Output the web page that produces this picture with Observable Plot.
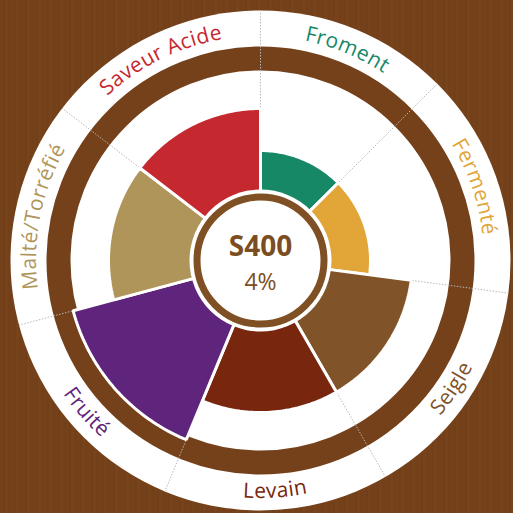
<!DOCTYPE html>
<html>
<head>
<meta charset="utf-8">
<script src="https://cdn.jsdelivr.net/npm/d3@7"></script>
<script src="https://cdn.jsdelivr.net/npm/@observablehq/plot@0.6"></script>
<style>
html, body { margin: 0; padding: 0; width: 513px; height: 513px; overflow: hidden; background: #74411a; }
#chart {
  width: 513px; height: 513px;
  background: repeating-linear-gradient(90deg,
    #74411a 0px, #74411a 3px,
    #71401a 3px, #71401a 5px,
    #77431b 5px, #77431b 8px,
    #73401a 8px, #73401a 11px);
}
</style>
</head>
<body>
<div id="chart"></div>
<script>
// ---- data ----
const categories = ["Froment", "Fermenté", "Seigle", "Levain", "Fruité", "Malté/Torréfié", "Saveur Acide"];
const values = [2, 2, 4, 4, 6, 4, 4];
const spans = [45, 52.5, 52.5, 52.5, 52.5, 52.5, 52.5]; // angular width of each sector, degrees
const colors = ["#168866", "#e2a537", "#805328", "#78260d", "#5f247c", "#af955a", "#c6282f"];
const centerTitle = "S400";
const centerValue = "4%";

// ---- layout ----
const W = 513, H = 513;
const cx = 260, cy = 260;
const R_OUT = 250, RING_IN = 190, RING_OUT = 214;
const rScale = d3.scaleLinear().domain([0, 6]).range([68, 194]);
const FONT = "'Open Sans', 'Noto Sans', sans-serif";
const rad = a => a * Math.PI / 180;

const starts = [0, ...d3.cumsum(spans)].slice(0, categories.length);
const sectors = categories.map((c, i) => ({
  name: c, value: values[i], color: colors[i],
  a0: starts[i], a1: starts[i] + spans[i]
}));

function polar(r, a) { return { x: r * Math.sin(rad(a)), y: -r * Math.cos(rad(a)) }; }

function barPoints(s) {
  const pts = [];
  const rOuter = rScale(s.value), rInner = rScale(0);
  const n = Math.max(2, Math.ceil(s.a1 - s.a0));
  for (let k = 0; k <= n; k++) pts.push(polar(rOuter, s.a0 + (s.a1 - s.a0) * k / n));
  for (let k = n; k >= 0; k--) pts.push(polar(rInner, s.a0 + (s.a1 - s.a0) * k / n));
  return pts;
}

const origin = [{ x: 0, y: 0 }];
const boundaries = sectors.map(s => ({ ...polar(R_OUT, s.a0) }));

const plot = Plot.plot({
  width: W, height: H, margin: 0,
  style: { background: "transparent", overflow: "visible" },
  x: { domain: [-cx, W - cx], range: [0, W], axis: null },
  y: { domain: [-cy, H - cy], range: [0, H], axis: null },
  marks: [
    Plot.dot(origin, { x: "x", y: "y", r: R_OUT, fill: "white", stroke: "none" }),
    Plot.dot(origin, { x: "x", y: "y", r: (RING_IN + RING_OUT) / 2, fill: "none", stroke: "#74411a", strokeWidth: RING_OUT - RING_IN }),
    Plot.link(boundaries, { x1: 0, y1: 0, x2: "x", y2: "y", stroke: "#b9b9b9", strokeWidth: 1, strokeDasharray: "1.5,1.5" }),
    ...sectors.map(s => Plot.line(barPoints(s), {
      x: "x", y: "y", curve: "linear-closed",
      fill: s.color, stroke: "white", strokeWidth: 3, strokeLinejoin: "miter"
    })),
    Plot.dot(origin, { x: "x", y: "y", r: 71, fill: "white", stroke: "none" }),
    Plot.dot(origin, { x: "x", y: "y", r: 63.5, fill: "white", stroke: "#7f5023", strokeWidth: 7 }),
    Plot.text([centerTitle], { x: 0, y: 0, text: d => d, dy: -13, fontSize: 28, fontWeight: 700, fontFamily: FONT, fill: "#7b4e22" }),
    Plot.text([centerValue], { x: 0, y: 0, text: d => d, dy: 22, fontSize: 23, fontWeight: 400, fontFamily: FONT, fill: "#7b4e22" })
  ]
});

// curved category labels along the outer ring, positioned with the plot's scales
const sx = plot.scale("x"), sy = plot.scale("y");
const svg = d3.select(plot);
const defs = svg.append("defs");
const labelG = svg.append("g").attr("class", "labels");
sectors.forEach((s, i) => {
  const mid = (s.a0 + s.a1) / 2;
  const flip = mid > 90 && mid < 270;
  const r = flip ? 238 : 224;
  const half = 60;
  const aStart = flip ? mid + half : mid - half;
  const aEnd = flip ? mid - half : mid + half;
  const p0 = polar(r, aStart), p1 = polar(r, aEnd);
  const X0 = sx.apply(p0.x), Y0 = sy.apply(p0.y), X1 = sx.apply(p1.x), Y1 = sy.apply(p1.y);
  const rpx = sx.apply(r) - sx.apply(0);
  const id = "lab" + i;
  defs.append("path").attr("id", id)
    .attr("d", `M${X0},${Y0} A${rpx},${rpx} 0 0 ${flip ? 0 : 1} ${X1},${Y1}`);
  labelG.append("text")
    .attr("font-family", FONT).attr("font-size", 21).attr("fill", s.color)
    .attr("letter-spacing", 0.4)
    .append("textPath").attr("href", "#" + id)
    .attr("startOffset", "50%").attr("text-anchor", "middle")
    .text(s.name);
});

document.getElementById("chart").appendChild(plot);
</script>
</body>
</html>
